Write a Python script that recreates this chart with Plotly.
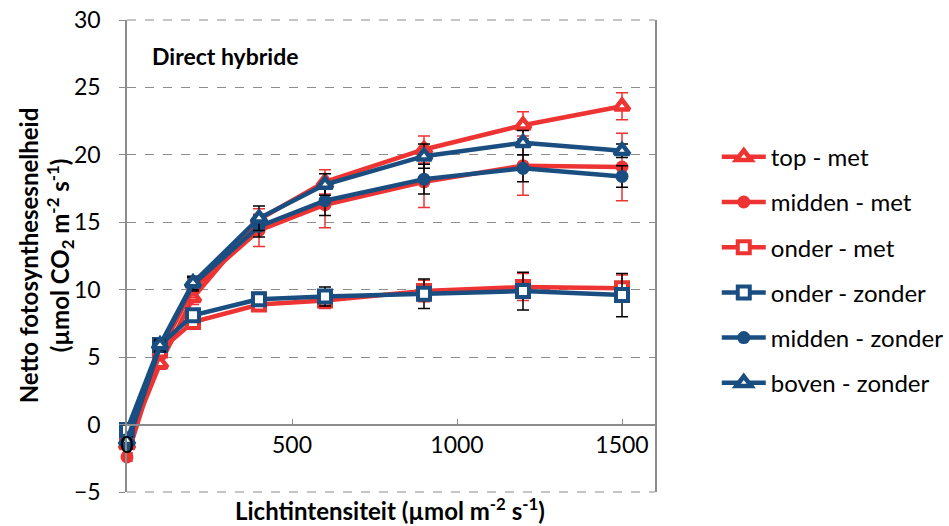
import plotly.graph_objects as go

x_light = [0, 100, 200, 400, 600, 900, 1200, 1500]

top_met = [-1.5, 4.5, 9.4, 15.2, 18.0, 20.4, 22.2, 23.6]
top_met_err = [0.3, 0.4, 0.5, 0.8, 0.9, 1.0, 1.0, 1.0]
midden_met = [-2.4, 5.4, 10.1, 14.4, 16.3, 18.0, 19.2, 19.1]
midden_met_err = [0.3, 0.5, 0.7, 1.2, 1.7, 1.9, 2.2, 2.5]
onder_met = [-0.8, 5.5, 7.6, 8.9, 9.2, 9.9, 10.2, 10.1]
onder_met_err = [0.3, 0.4, 0.4, 0.5, 0.6, 0.8, 1.0, 1.0]

onder_zonder = [-0.4, 5.9, 8.1, 9.3, 9.5, 9.7, 9.9, 9.6]
onder_zonder_err = [0.3, 0.4, 0.4, 0.5, 0.7, 1.1, 1.4, 1.6]
midden_zonder = [-1.5, 5.8, 10.4, 14.7, 16.6, 18.2, 19.0, 18.4]
midden_zonder_err = [0.3, 0.4, 0.5, 0.8, 1.1, 1.1, 1.0, 0.8]
boven_zonder = [-1.2, 5.9, 10.5, 15.3, 17.8, 19.9, 20.9, 20.3]
boven_zonder_err = [0.3, 0.4, 0.5, 0.9, 0.8, 0.9, 0.9, 0.5]

x_ticks = [0, 500, 1000, 1500]
y_ticks = [-5, 0, 5, 10, 15, 20, 25, 30]
Y_RANGE = [y_ticks[0], y_ticks[-1]]

RED = "#EE3333"
BLUE = "#1A4E80"
GRID = "#8C8C8C"
FONT = "Lato"

series = [
    ("top - met", top_met, top_met_err, RED, RED, "triangle-up"),
    ("midden - met", midden_met, midden_met_err, RED, RED, "circle"),
    ("onder - met", onder_met, onder_met_err, RED, RED, "square"),
    ("onder - zonder", onder_zonder, onder_zonder_err, BLUE, "black", "square"),
    ("midden - zonder", midden_zonder, midden_zonder_err, BLUE, "black", "circle"),
    ("boven - zonder", boven_zonder, boven_zonder_err, BLUE, "black", "triangle-up"),
]

fig = go.Figure()
for i, (name, vals, errs, col, ecol, sym) in enumerate(series):
    if sym == "circle":
        marker = dict(symbol=sym, size=13, color=col, line=dict(width=0))
    elif sym == "square":
        marker = dict(symbol=sym, size=12, color="white", line=dict(width=4, color=col))
    else:
        marker = dict(symbol=sym, size=13, color="white", line=dict(width=4.5, color=col))
    fig.add_trace(go.Scatter(
        x=x_light, y=vals, name=name, mode="lines+markers",
        line=dict(color=col, width=4.5),
        marker=marker, cliponaxis=False,
        error_y=dict(type="data", array=errs, visible=True, color=ecol, thickness=1.5, width=6),
        legendgroup=f"g{i}",
    ))

# dashed gridlines at the range ends (plotly omits them at the edges)
span = Y_RANGE[1] - Y_RANGE[0]
for yv in (y_ticks[0], y_ticks[-1]):
    yp = (yv - Y_RANGE[0]) / span
    fig.add_shape(type="line", xref="paper", yref="paper", x0=0, x1=1, y0=yp, y1=yp,
                  line=dict(color=GRID, width=1.2, dash="dash"), layer="above")

fig.update_layout(
    width=949, height=526,
    margin=dict(l=127, r=294, t=20, b=34, autoexpand=False),
    paper_bgcolor="white", plot_bgcolor="white",
    font=dict(family=FONT, size=23, color="black"),
    showlegend=True,
    legend=dict(
        x=1.117, xanchor="left", y=0.757, yanchor="top",
        traceorder="grouped", tracegroupgap=11,
        font=dict(family=FONT, size=24, color="black"),
        bgcolor="rgba(0,0,0,0)", itemwidth=44,
    ),
    xaxis=dict(
        range=[0, 1600], tickvals=x_ticks, ticktext=[str(v) for v in x_ticks],
        showgrid=False, zeroline=False, automargin=False,
        showline=True, linecolor=GRID, linewidth=1.5,
        anchor="free", position=(0 - Y_RANGE[0]) / span,
        ticks="inside", ticklen=5, tickcolor=GRID,
        tickfont=dict(family=FONT, size=23),
    ),
    yaxis=dict(
        range=Y_RANGE, tickvals=y_ticks, automargin=False,
        showgrid=True, gridcolor=GRID, griddash="dash", gridwidth=1.2,
        zeroline=False,
        showline=True, linecolor=GRID, linewidth=1.5, mirror=True,
        ticks="outside", ticklen=6, tickcolor=GRID,
        ticklabelstandoff=14,
        tickfont=dict(family=FONT, size=23),
    ),
    annotations=[
        dict(text="<b>Direct hybride</b>", x=70, xref="x", xanchor="left",
             y=27.3, yref="y", yanchor="middle", showarrow=False,
             font=dict(family=FONT, size=23, color="black")),
        dict(text="<b>Lichtintensiteit (µmol m<sup>-2</sup> s<sup>-1</sup>)</b>",
             x=0.498, xref="paper", xanchor="center",
             y=-0.036, yref="paper", yanchor="middle", showarrow=False,
             font=dict(family=FONT, size=24, color="black")),
        dict(text="<b>Netto fotosynthesesnelheid<br>(µmol CO<sub>2</sub> m<sup>-2</sup> s<sup>-1</sup>)</b>",
             x=-0.153, xref="paper", xanchor="center",
             y=0.502, yref="paper", yanchor="middle", showarrow=False,
             textangle=-90,
             font=dict(family=FONT, size=24, color="black")),
    ],
)

fig.write_html("out.html", config={"displayModeBar": False},
               post_script="document.body.style.margin='0';")
